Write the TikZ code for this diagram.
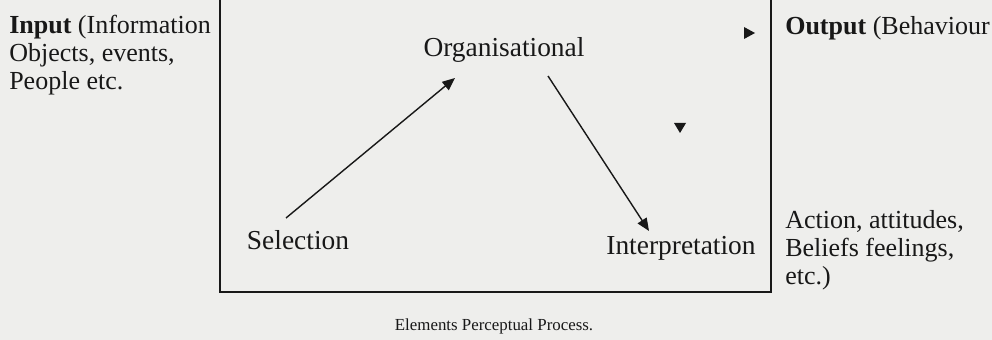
\documentclass[tikz,border=0pt]{standalone}
\usepackage{fontspec}
\setmainfont{Liberation Serif}
\usetikzlibrary{arrows.meta}

\definecolor{paper}{RGB}{238,238,236}
\definecolor{ink}{RGB}{24,24,24}

\begin{document}
\begin{tikzpicture}[x=0.025cm, y=-0.025cm,
		txt/.style={inner sep=0pt, text=ink, font=\fontsize{18.5}{20}\selectfont},
		stage/.style={inner sep=0pt, text=ink, font=\fontsize{19.5}{20}\selectfont},
		arr/.style={-{Triangle[length=9pt,width=7.5pt]}, line width=1pt, ink}]

		%Hintergrund (Papier)
		\fill [paper] (0,0) rectangle (992,340);
		\useasboundingbox (0,0) rectangle (992,340);

		%Rahmen (oben offen)
		\draw [ink, line width=1.4pt] (220,0) -- (220,292) -- (771,292) -- (771,0);

		%Texte links und rechts
		\node [txt, anchor=west, align=left] (input) at (9,55)
			{\textbf{Input} (Information\\Objects, events,\\People etc.};
		\node [txt, anchor=west] (output) at (785,28) {\textbf{Output} (Behaviour};
		\node [txt, anchor=west, align=left] (action) at (785,250)
			{Action, attitudes,\\Beliefs feelings,\\etc.)};

		%Stufen im Rahmen
		\node [stage] (org) at (504,50) {Organisational};
		\node [stage] (sel) at (298,240) {Selection};
		\node [stage] (interp) at (681,248) {Interpretation};

		%Pfeile
		\draw [arr] ([shift={(-12,-22)}]sel.center) -- ([shift={(-49,28)}]org.center);
		\draw [arr] ([shift={(44,26)}]org.center) -- ([shift={(-32,-17)}]interp.center);

		%einzelne Pfeilspitzen
		\fill [ink] (744,27) -- (755,33) -- (744,39) -- cycle;
		\fill [ink] (674,123) -- (686,123) -- (680,133) -- cycle;

		%Bildunterschrift
		\node [txt, font=\fontsize{12}{14}\selectfont] (caption) at (494,326) {Elements Perceptual Process.};

	\end{tikzpicture}
\end{document}
